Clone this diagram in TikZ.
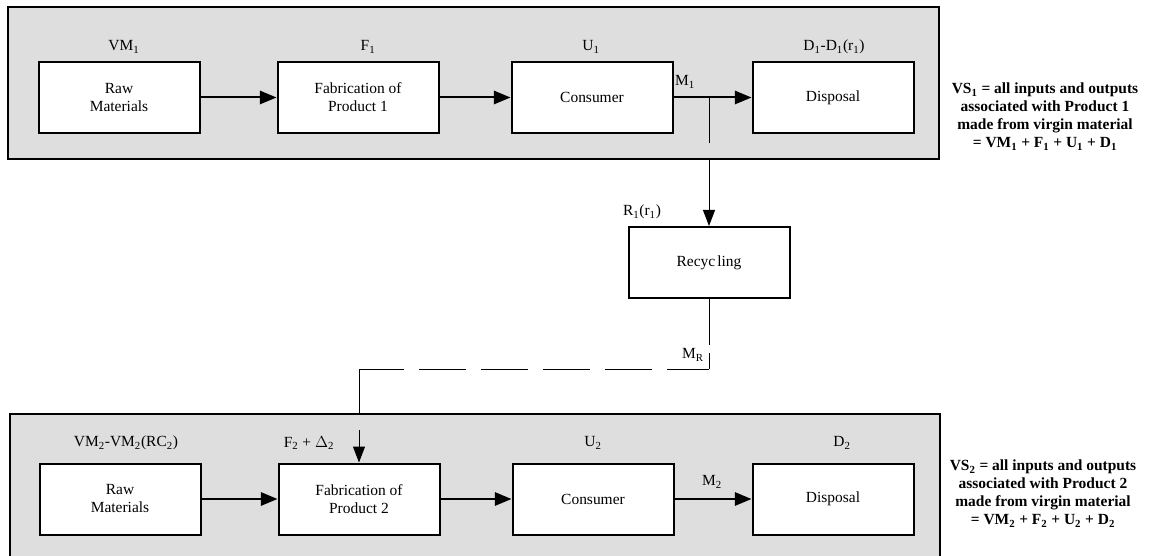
\documentclass[tikz,border=0pt]{standalone}
\usepackage{fontspec}
\setmainfont{Liberation Serif}
\usetikzlibrary{arrows.meta}
\definecolor{panelgray}{RGB}{222,222,222}
\tikzset{
  stagebox/.style={draw=black, fill=white, line width=1.5pt, minimum width=120.75pt, minimum height=53.25pt, inner sep=0pt, align=center, font=\fontsize{11.6pt}{13.5pt}\selectfont},
  panel/.style={draw=black, fill=panelgray, line width=1.5pt},
  lbl/.style={inner sep=0pt, font=\fontsize{11.6pt}{13.5pt}\selectfont},
  vslbl/.style={inner sep=0pt, align=center, font=\fontsize{11.6pt}{13.5pt}\selectfont\bfseries},
  thickarrow/.style={line width=1.5pt, -{Triangle[length=12.5pt,width=10pt]}},
  thinline/.style={line width=0.75pt},
  thinarrow/.style={line width=0.75pt, -{Triangle[length=12pt,width=9pt]}},
  longdash/.style={line width=0.75pt, dash pattern=on 35.25pt off 11.25pt, dash phase=3.75pt}
}
\newcommand{\sub}[1]{\textsubscript{#1}}
\begin{document}
\begin{tikzpicture}[x=0.75pt, y=-0.75pt]
\useasboundingbox (0,0) rectangle (1154,556);
% panels
\path[panel] (8,7) rectangle (939,159);
\path[panel] (10,414) rectangle (940,560);
% top row
\node[stagebox] (raw1) at (119,97.5) {Raw\\Materials};
\node[stagebox] (fab1) at (358,97.5) {Fabrication of\\Product 1};
\node[stagebox] (con1) at (592,97.5) {Consumer};
\node[stagebox] (dis1) at (833,97.5) {Disposal};
% recycling
\node[stagebox] (rec) at (709,262.5) {Recyc\kern1.5pt ling};
% bottom row
\node[stagebox] (raw2) at (120,499) {Raw\\Materials};
\node[stagebox] (fab2) at (359,499) {Fabrication of\\Product 2};
\node[stagebox] (con2) at (593,499) {Consumer};
\node[stagebox] (dis2) at (833,499) {Disposal};
% labels top
\node[lbl] (lvm1) at (124,47) {VM\sub{1}};
\node[lbl] (lf1) at (368,47) {F\sub{1}};
\node[lbl] (lu1) at (591,47) {U\sub{1}};
\node[lbl] (ld1) at (834,47) {D\sub{1}-D\sub{1}(r\sub{1})};
\node[lbl] (lm1) at (685,82) {M\sub{1}};
\node[lbl] (lr1) at (642,212) {R\sub{1}(r\sub{1})};
\node[lbl] (lmr) at (693,355) {M\sub{R}};
% labels bottom
\node[lbl] (lvm2) at (126,443) {VM\sub{2}-VM\sub{2}(RC\sub{2})};
\node[lbl] (lf2) at (309,443) {F\sub{2} + $\Delta$\sub{2}};
\node[lbl] (lu2) at (593,443) {U\sub{2}};
\node[lbl] (ld2) at (842,443) {D\sub{2}};
\node[lbl] (lm2) at (712,482) {M\sub{2}};
% VS texts
\node[vslbl] (vs1) at (1045,116.5) {VS\sub{1} = all inputs and outputs\\associated with Product 1\\made from virgin material\\= VM\sub{1} + F\sub{1} + U\sub{1} + D\sub{1}};
\node[vslbl] (vs2) at (1043,493.5) {VS\sub{2} = all inputs and outputs\\associated with Product 2\\made from virgin material\\= VM\sub{2} + F\sub{2} + U\sub{2} + D\sub{2}};
% flows
\draw[thickarrow] (raw1) -- (fab1);
\draw[thickarrow] (fab1) -- (con1);
\draw[thickarrow] (con1) -- (dis1);
\draw[thickarrow] (raw2) -- (fab2);
\draw[thickarrow] (fab2) -- (con2);
\draw[thickarrow] (con2) -- (dis2);
% recycling loop
\coordinate (j1) at (709,97.5);
\coordinate (j1a) at (709,143);
\coordinate (j1b) at (709,159);
\coordinate (r1) at (709,345);
\coordinate (r2) at (709,353);
\coordinate (c1) at (709,369);
\coordinate (c2) at (359,369);
\coordinate (c3) at (359,414);
\coordinate (c4) at (359,430);
\draw[thinline] (j1) -- (j1a);
\draw[thinarrow] (j1b) -- (rec.north);
\draw[thinline] (rec.south) -- (r1);
\draw[thinline] (r2) -- (c1);
\draw[longdash] (c1) -- (c2);
\draw[thinline] (c2) -- (c3);
\draw[thinarrow] (c4) -- (fab2.north);
\end{tikzpicture}
\end{document}
